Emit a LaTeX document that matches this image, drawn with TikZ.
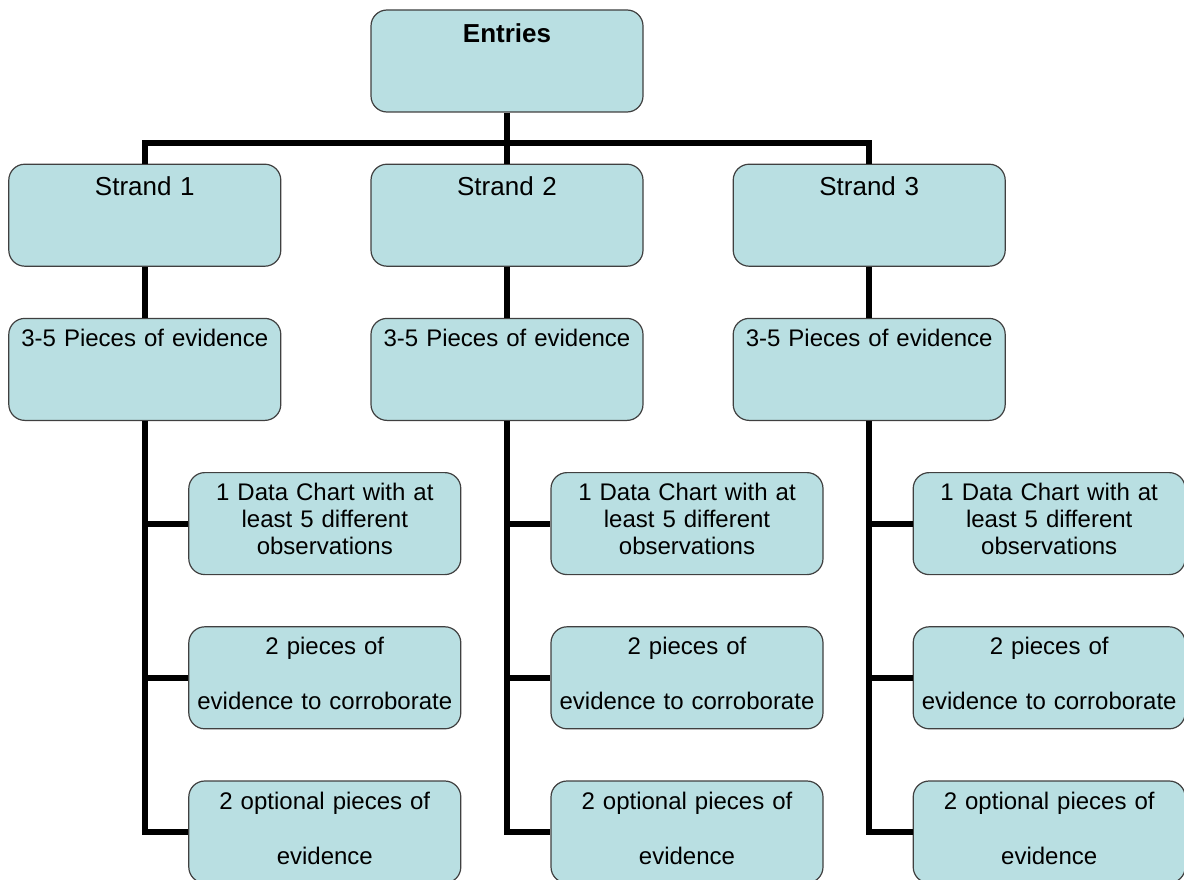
\documentclass[tikz,border=0pt]{standalone}
\usepackage{fontspec}
\setmainfont{Liberation Sans}
\usepackage{xcolor}
\usetikzlibrary{positioning}

\definecolor{boxfill}{RGB}{185,223,226}
\definecolor{boxline}{RGB}{64,64,64}

\begin{document}
\begin{tikzpicture}[x=1pt, y=1pt, node distance=51pt and 89pt,
    box/.style={draw=boxline, line width=1.2pt, fill=boxfill, rounded corners=16pt,
        text width=260pt, inner xsep=6pt, inner ysep=0pt, align=center,
        text height=28pt, text depth=74pt, font=\fontsize{24}{27}\selectfont},
    head/.style={box, text height=31pt, text depth=71pt, font=\fontsize{26}{30}\selectfont},
    link/.style={line width=6pt}]
    \useasboundingbox (0,0) rectangle (1184,-880);

    % Nodes
    \node (entries) [head, text height=33pt, text depth=69pt, font=\fontsize{26}{30}\selectfont\bfseries] at (507,-61) {Entries}; % top of the tree
    \node (strand2) [head, below=of entries] {Strand 2};
    \node (strand1) [head, left=of strand2] {Strand 1};
    \node (strand3) [head, right=of strand2] {Strand 3};
    \node (evid1) [box, below=of strand1] {3-5 Pieces of evidence};
    \node (evid2) [box, below=of strand2] {3-5 Pieces of evidence};
    \node (evid3) [box, below=of strand3] {3-5 Pieces of evidence};
    % what each strand needs
    \node (chart1) [box, below=of evid1, xshift=180pt] {1 Data Chart with at\\least 5 different\\observations};
    \node (corr1) [box, below=of chart1] {2 pieces of\\[28pt]evidence to corroborate};
    \node (opt1) [box, below=of corr1] {2 optional pieces of\\[28pt]evidence};
    \node (chart2) [box, below=of evid2, xshift=180pt] {1 Data Chart with at\\least 5 different\\observations};
    \node (corr2) [box, below=of chart2] {2 pieces of\\[28pt]evidence to corroborate};
    \node (opt2) [box, below=of corr2] {2 optional pieces of\\[28pt]evidence};
    \node (chart3) [box, below=of evid3, xshift=180pt] {1 Data Chart with at\\least 5 different\\observations};
    \node (corr3) [box, below=of chart3] {2 pieces of\\[28pt]evidence to corroborate};
    \node (opt3) [box, below=of corr3] {2 optional pieces of\\[28pt]evidence};

    % Connectors
    \draw[link] (entries) -- (strand2);
    \draw[link] (strand1.north) -- ++(0,21) -| (strand3.north); % bar over the strands
    \draw[link] (strand1) -- (evid1);
    \draw[link] (strand2) -- (evid2);
    \draw[link] (strand3) -- (evid3);
    \draw[link] (evid1.south) |- (chart1.west);
    \draw[link] (evid1.south) |- (corr1.west);
    \draw[link] (evid1.south) |- (opt1.west);
    \draw[link] (evid2.south) |- (chart2.west);
    \draw[link] (evid2.south) |- (corr2.west);
    \draw[link] (evid2.south) |- (opt2.west);
    \draw[link] (evid3.south) |- (chart3.west);
    \draw[link] (evid3.south) |- (corr3.west);
    \draw[link] (evid3.south) |- (opt3.west);
\end{tikzpicture}
\end{document}
